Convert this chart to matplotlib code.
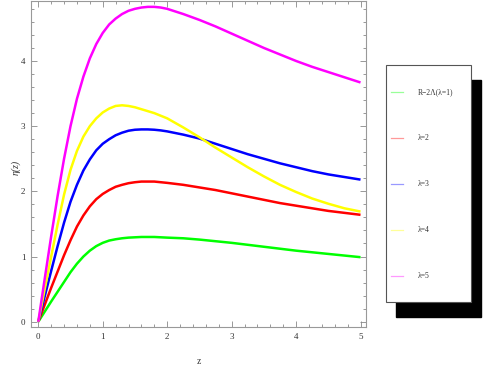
import matplotlib
matplotlib.use("Agg")
import matplotlib.pyplot as plt
from matplotlib.lines import Line2D
from matplotlib.patches import Rectangle
from matplotlib.ticker import MultipleLocator

# ---- data ----
z = [0, 0.1, 0.2, 0.3, 0.4, 0.5, 0.6, 0.7, 0.8, 0.9, 1.0, 1.1, 1.2, 1.3, 1.4,
     1.5, 1.6, 1.7, 1.8, 1.9, 2.0, 2.25, 2.5, 2.75, 3.0, 3.25, 3.5, 3.75, 4.0,
     4.25, 4.5, 4.75, 5.0]
eta_l1 = [0, 0.155, 0.31, 0.46, 0.61, 0.76, 0.89, 1.00, 1.09, 1.16, 1.21, 1.245,
          1.265, 1.28, 1.29, 1.295, 1.30, 1.30, 1.30, 1.295, 1.29, 1.28, 1.26,
          1.235, 1.21, 1.18, 1.15, 1.12, 1.09, 1.065, 1.04, 1.015, 0.99]
eta_l2 = [0, 0.26, 0.52, 0.77, 1.02, 1.25, 1.46, 1.63, 1.77, 1.88, 1.96, 2.02,
          2.07, 2.10, 2.125, 2.14, 2.15, 2.15, 2.15, 2.14, 2.13, 2.10, 2.06,
          2.02, 1.97, 1.92, 1.87, 1.82, 1.78, 1.74, 1.70, 1.67, 1.64]
eta_l3 = [0, 0.39, 0.78, 1.16, 1.52, 1.84, 2.10, 2.32, 2.49, 2.63, 2.73, 2.80,
          2.86, 2.90, 2.93, 2.945, 2.95, 2.95, 2.945, 2.935, 2.92, 2.87, 2.81,
          2.73, 2.65, 2.57, 2.50, 2.43, 2.37, 2.31, 2.26, 2.22, 2.18]
eta_l4 = [0, 0.50, 1.00, 1.49, 1.95, 2.33, 2.62, 2.84, 3.00, 3.12, 3.21, 3.27,
          3.31, 3.32, 3.31, 3.29, 3.26, 3.23, 3.20, 3.16, 3.12, 2.98, 2.83,
          2.67, 2.52, 2.37, 2.23, 2.10, 1.99, 1.89, 1.81, 1.74, 1.69]
eta_l5 = [0, 0.66, 1.31, 1.93, 2.50, 3.00, 3.42, 3.76, 4.04, 4.26, 4.43, 4.56,
          4.65, 4.72, 4.77, 4.80, 4.82, 4.83, 4.83, 4.82, 4.80, 4.72, 4.63,
          4.53, 4.42, 4.31, 4.20, 4.10, 4.00, 3.91, 3.83, 3.75, 3.67]
series = [eta_l1, eta_l2, eta_l3, eta_l4, eta_l5]
labels = ["R\u22122\u039b(\u03bb=1)", "\u03bb=2", "\u03bb=3", "\u03bb=4", "\u03bb=5"]
colors = ["#00ff00", "#ff0000", "#0000ff", "#ffff00", "#ff00ff"]
xticks = [0, 1, 2, 3, 4, 5]
yticks = [0, 1, 2, 3, 4]

W, H = 491, 382
fig = plt.figure(figsize=(W / 100, H / 100), dpi=100)
ax = fig.add_axes([31 / W, 1 - 327 / H, 335 / W, 326 / H])

for ys, c in zip(series, colors):
    ax.plot(z, ys, color=c, lw=1.8, solid_capstyle="butt", solid_joinstyle="round")

ax.set_xlim(-0.113, 5.085)
ax.set_ylim(-0.081, 4.92)
ax.set_xticks(xticks)
ax.set_yticks(yticks)
ax.xaxis.set_minor_locator(MultipleLocator(0.2))
ax.yaxis.set_minor_locator(MultipleLocator(0.2))
ax.tick_params(which="both", direction="in", top=True, right=True,
               color="#888888", width=0.6)
ax.tick_params(which="major", length=4.5, labelsize=6.5, labelcolor="#333333",
               pad=4)
ax.tick_params(which="minor", length=2.5)
for lab in ax.get_xticklabels() + ax.get_yticklabels():
    lab.set_fontfamily("Liberation Serif")
for s in ax.spines.values():
    s.set_color("#999999")
    s.set_linewidth(0.8)

ax.set_xlabel("z", fontfamily="Liberation Serif", fontsize=7, color="#333333",
              labelpad=12)
ax.set_ylabel("\u03b7(z)", fontfamily="Liberation Serif", fontstyle="italic",
              fontsize=7, color="#333333")
ax.yaxis.set_label_coords(-0.032, 0.49)

# ---- legend box with shadow ----
bx0, by0, bw, bh = 386, 65, 85, 237
fig.add_artist(Rectangle(((bx0 + 10) / W, 1 - (by0 + 15 + bh) / H), bw / W, bh / H,
                         transform=fig.transFigure, facecolor="black",
                         edgecolor="black", zorder=1))
fig.add_artist(Rectangle((bx0 / W, 1 - (by0 + bh) / H), bw / W, bh / H,
                         transform=fig.transFigure, facecolor="white",
                         edgecolor="#555555", lw=0.8, zorder=2))
for i, (lab, c) in enumerate(zip(labels, colors)):
    yy = 1 - (92 + 46 * i) / H
    fig.add_artist(Line2D([391 / W, 403 / W], [yy, yy], transform=fig.transFigure,
                          color=c, alpha=0.4, lw=0.9, zorder=3))
    fig.text(418 / W, yy, lab, fontsize=5.5, fontfamily="Liberation Serif",
             color="#333333", va="center", ha="left", zorder=3)

fig.savefig("out.png", dpi=100)
